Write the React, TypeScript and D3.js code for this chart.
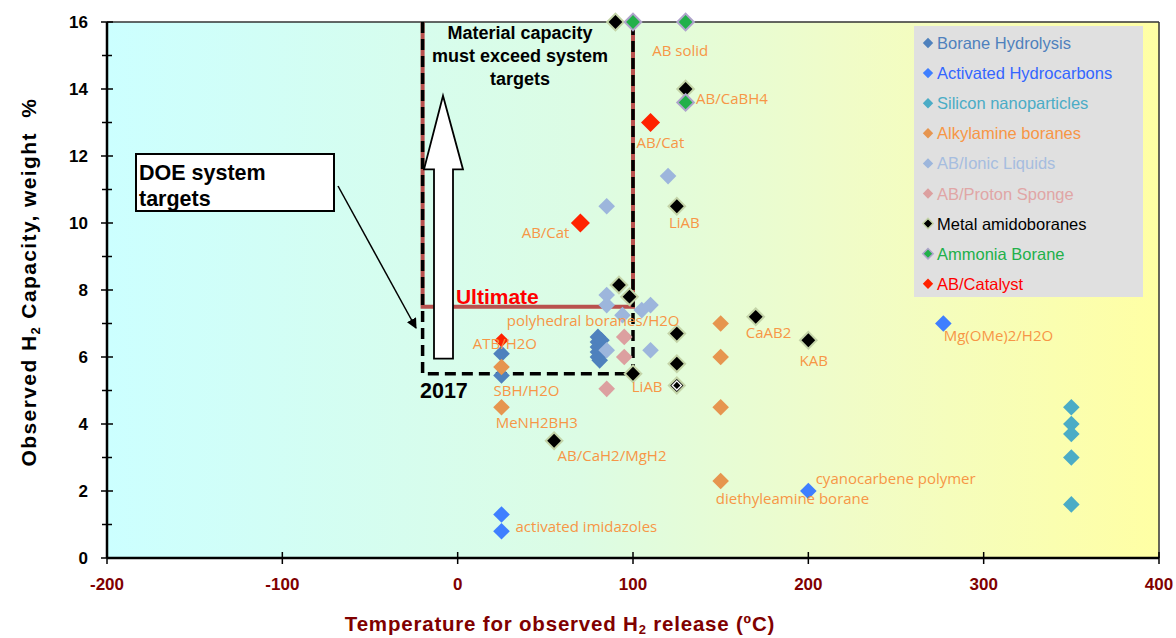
import React, { useEffect } from 'react';
import * as d3 from 'd3';

const W = 1176;
const H = 638;
const margin = { top: 22, right: 17, bottom: 80, left: 107 };

// axis ticks
const xTicks = [-200, -100, 0, 100, 200, 300, 400];
const yTicks = [0, 2, 4, 6, 8, 10, 12, 14, 16];
const yMinor = [1, 3, 5, 7, 9, 11, 13, 15];

// [temperature ºC, wt%]
const boraneHydrolysis = [
  [25, 6.1], [25, 5.45], [80, 6.6], [80, 6.45], [80, 6.3], [80, 6.15], [80, 6.0],
  [82, 6.5], [82, 6.2], [81, 5.9],
];
const activatedHydrocarbons = [[25, 1.3], [25, 0.8], [200, 2.0], [277, 7.0]];
const siliconNano = [[350, 4.5], [350, 4.0], [350, 3.7], [350, 3.0], [350, 1.6]];
const alkylamineBoranes = [[25, 5.7], [25, 4.5], [150, 7.0], [150, 6.0], [150, 4.5], [150, 2.3]];
const abIonicLiquids = [
  [85, 10.5], [120, 11.4], [85, 7.85], [85, 7.55], [94, 7.25], [105, 7.4], [110, 7.55],
  [85, 6.2], [110, 6.2],
];
const abProtonSponge = [[95, 6.6], [95, 6.0], [85, 5.05]];
const metalAmidoboranes = [
  [90, 16], [130, 14], [125, 10.5], [92, 8.15], [98, 7.8], [125, 6.7], [125, 5.8],
  [100, 5.5], [170, 7.2], [200, 6.5], [55, 3.5],
];
const metalAmidoHollow = [[125, 5.15]];
const ammoniaBorane = [[100, 16], [130, 16], [130, 13.6]];
const abCatalyst = [[110, 13.0], [70, 10.0], [25, 6.5]];
const abCatalystSize = [1.15, 1.15, 0.85];

// point labels: text, x, y (baseline, data units)
const pointLabels = [
  ['AB solid', 111, 15.0],
  ['AB/CaBH4', 136, 13.55],
  ['AB/Cat', 102, 12.25],
  ['AB/Cat', 36.5, 9.55],
  ['LiAB', 120.5, 9.85],
  ['polyhedral boranes/H2O', 28, 6.93],
  ['ATB/H2O', 8.6, 6.24],
  ['SBH/H2O', 20.5, 4.84],
  ['MeNH2BH3', 21.7, 3.88],
  ['AB/CaH2/MgH2', 57, 2.9],
  ['activated imidazoles', 33, 0.78],
  ['LiAB', 99.3, 4.96],
  ['CaAB2', 164.3, 6.57],
  ['KAB', 195, 5.73],
  ['Mg(OMe)2/H2O', 277.2, 6.48],
  ['cyanocarbene polymer', 204.2, 2.21],
  ['diethyleamine borane', 147.2, 1.61],
];

// DOE targets
const targetTemps = [-20, 100];
const target2017 = 5.5;
const targetUltimate = 7.5;

const series = [
  { name: 'Borane Hydrolysis', pts: boraneHydrolysis, fill: '#4f81bd', text: '#4f81bd', stroke: 'none' },
  { name: 'Activated Hydrocarbons', pts: activatedHydrocarbons, fill: '#3f7fff', text: '#3366ff', stroke: 'none' },
  { name: 'Silicon nanoparticles', pts: siliconNano, fill: '#4bacc6', text: '#4bacc6', stroke: 'none' },
  { name: 'Alkylamine boranes', pts: alkylamineBoranes, fill: '#e6954f', text: '#f79646', stroke: 'none' },
  { name: 'AB/Ionic Liquids', pts: abIonicLiquids, fill: '#9db6dc', text: '#a6bddf', stroke: 'none' },
  { name: 'AB/Proton Sponge', pts: abProtonSponge, fill: '#dca0a0', text: '#e0a6a6', stroke: 'none' },
  { name: 'Metal amidoboranes', pts: metalAmidoboranes, fill: '#000000', text: '#000000', stroke: '#c4d4a8' },
  { name: 'Ammonia Borane', pts: ammoniaBorane, fill: '#22b04a', text: '#22b04a', stroke: '#b0a4cc' },
  { name: 'AB/Catalyst', pts: abCatalyst, fill: '#ff2200', text: '#ff0000', stroke: 'none' },
];

const x = d3.scaleLinear().domain([-200, 400]).range([margin.left, W - margin.right]);
const y = d3.scaleLinear().domain([0, 16]).range([H - margin.bottom, margin.top]);

const diamond = (half: number) =>
  d3.symbol().type(d3.symbolSquare).size(2 * half * half)() as string;

const App = () => {
  useEffect(() => {
    document.body.style.margin = '0';
  }, []);

  const x0 = x.range()[0];
  const x1 = x.range()[1];
  const yb = y.range()[0];
  const yt = y.range()[1];
  const legendX = 914;
  const legendY = 26;
  const arrowX = 443;

  return (
    <svg width={W} height={H} style={{ display: 'block', fontFamily: 'Liberation Sans, Arial, sans-serif' }}>
      <defs>
        <linearGradient id="bg" x1="0" x2="1" y1="0" y2="0">
          <stop offset="0" stopColor="#ccffff" />
          <stop offset="0.45" stopColor="#dcfce4" />
          <stop offset="0.7" stopColor="#f0fcc8" />
          <stop offset="1" stopColor="#ffffa4" />
        </linearGradient>
        <marker id="ah" viewBox="0 0 10 10" refX="9" refY="5" markerWidth="7" markerHeight="7" orient="auto">
          <path d="M0,0 L10,5 L0,10 z" fill="#000" />
        </marker>
      </defs>
      <rect width={W} height={H} fill="#fff" />
      <rect x={x0} y={yt} width={x1 - x0} height={yb - yt} fill="url(#bg)" />
      <line x1={x0} x2={x1} y1={yt} y2={yt} stroke="#333" strokeWidth={1.5} />
      <line x1={x1} x2={x1} y1={yt} y2={yb} stroke="#333" strokeWidth={1.5} />

      {/* Ultimate target box */}
      <path
        d={`M${x(targetTemps[0])},${yt} V${y(targetUltimate)} H${x(targetTemps[1])} V${yt}`}
        fill="none" stroke="#b9514e" strokeWidth={4}
      />
      {/* 2017 target box */}
      <path
        d={`M${x(targetTemps[0])},${yt} V${y(target2017)} H${x(targetTemps[1])} V${yt}`}
        fill="none" stroke="#000" strokeWidth={3.5} strokeDasharray="11,6"
      />
      <text x={x(-1)} y={y(targetUltimate) - 3} fill="#ff0000" fontWeight="bold" fontSize={21}>Ultimate</text>
      <text x={x(-21.5)} y={y(target2017) + 24} fill="#000" fontWeight="bold" fontSize={21.5}>2017</text>

      {/* white block arrow */}
      <path
        d={`M${arrowX - 9},${y(5.95)} V${y(11.6)} H${arrowX - 19} L${arrowX},${y(13.8)} L${arrowX + 20},${y(11.6)} H${arrowX + 10} V${y(5.95)} Z`}
        fill="#fff" stroke="#000" strokeWidth={1.8}
      />
      <text textAnchor="middle" fontWeight="bold" fontSize={18} fill="#000">
        <tspan x={520} y={39}>Material capacity</tspan>
        <tspan x={520} y={62}>must exceed system</tspan>
        <tspan x={520} y={85}>targets</tspan>
      </text>

      {/* DOE box */}
      <rect x={136} y={154} width={198} height={57} fill="#fff" stroke="#000" strokeWidth={2} />
      <text fontWeight="bold" fontSize={21.5} fill="#000">
        <tspan x={139} y={180}>DOE system</tspan>
        <tspan x={139} y={206}>targets</tspan>
      </text>
      <line x1={338} y1={186} x2={416} y2={328} stroke="#000" strokeWidth={1.5} markerEnd="url(#ah)" />

      {/* markers */}
      {series.map((s, si) => (
        <g key={s.name}>
          {s.pts.map((p, i) => {
            const k = s.name === 'AB/Catalyst' ? abCatalystSize[i] : 1;
            return (
              <path
                key={i}
                d={diamond(8.3 * k)}
                transform={`translate(${x(p[0])},${y(p[1])}) rotate(45)`}
                fill={s.fill}
                stroke={s.stroke}
                strokeWidth={s.stroke === 'none' ? 0 : 2}
              />
            );
          })}
          {si === 6 && metalAmidoHollow.map((p, i) => (
            <g key={'h' + i} transform={`translate(${x(p[0])},${y(p[1])}) rotate(45)`}>
              <path d={diamond(8)} fill="#000" stroke="#c4d4a8" strokeWidth={2} />
              <path d={diamond(5.5)} fill="#fff" />
              <path d={diamond(3.6)} fill="#000" />
            </g>
          ))}
        </g>
      ))}

      {/* point labels */}
      {pointLabels.map((l, i) => (
        <text key={i} x={x(l[1] as number)} y={y(l[2] as number)} fill="#f79646"
          fontFamily="Open Sans, Noto Sans, sans-serif" fontSize={15}>{l[0]}</text>
      ))}

      {/* axes */}
      <line x1={x0} x2={x1} y1={yb} y2={yb} stroke="#000" strokeWidth={2.5} />
      <line x1={x0} x2={x0} y1={yt} y2={yb} stroke="#000" strokeWidth={2.5} />
      {xTicks.map(t => (
        <g key={t}>
          <line x1={x(t)} x2={x(t)} y1={yb - 6} y2={yb + 6} stroke="#000" strokeWidth={1.5} />
          <text x={x(t)} y={yb + 32} textAnchor="middle" fontWeight="bold" fontSize={17} fill="#800000">{t}</text>
        </g>
      ))}
      {yTicks.map(t => (
        <g key={t}>
          <line x1={x0 - 6} x2={x0 + 6} y1={y(t)} y2={y(t)} stroke="#000" strokeWidth={1.5} />
          <text x={x0 - 19} y={y(t) + 6} textAnchor="end" fontWeight="bold" fontSize={17} fill="#000">{t}</text>
        </g>
      ))}
      {yMinor.map(t => (
        <line key={t} x1={x0 - 5} x2={x0 + 5} y1={y(t)} y2={y(t)} stroke="#000" strokeWidth={1.5} />
      ))}

      <text x={560} y={631} textAnchor="middle" fontWeight="bold" fontSize={20.5} letterSpacing={0.8} fill="#800000">
        Temperature for observed H<tspan fontSize={13} dy={3}>2</tspan>
        <tspan dy={-3}> release (ºC)</tspan>
      </text>
      <text transform={`translate(36,${282}) rotate(-90)`} textAnchor="middle" fontWeight="bold" fontSize={21} letterSpacing={1.4} fill="#000">
        Observed H<tspan fontSize={13} dy={4}>2</tspan>
        <tspan dy={-4}> Capacity, weight{'\u00a0\u00a0'}%</tspan>
      </text>

      {/* legend */}
      <rect x={legendX} y={legendY} width={229} height={271} fill="#e0e0e0" />
      {series.map((s, i) => {
        const cy = legendY + 17 + i * 30.1;
        return (
          <g key={s.name}>
            <path d={diamond(5.2)} transform={`translate(${legendX + 14},${cy}) rotate(45)`}
              fill={s.fill} stroke={s.stroke} strokeWidth={s.stroke === 'none' ? 0 : 1.5} />
            <text x={legendX + 23} y={cy + 6} fontSize={16.5} fill={s.text}>{s.name}</text>
          </g>
        );
      })}
    </svg>
  );
};

export default App;
